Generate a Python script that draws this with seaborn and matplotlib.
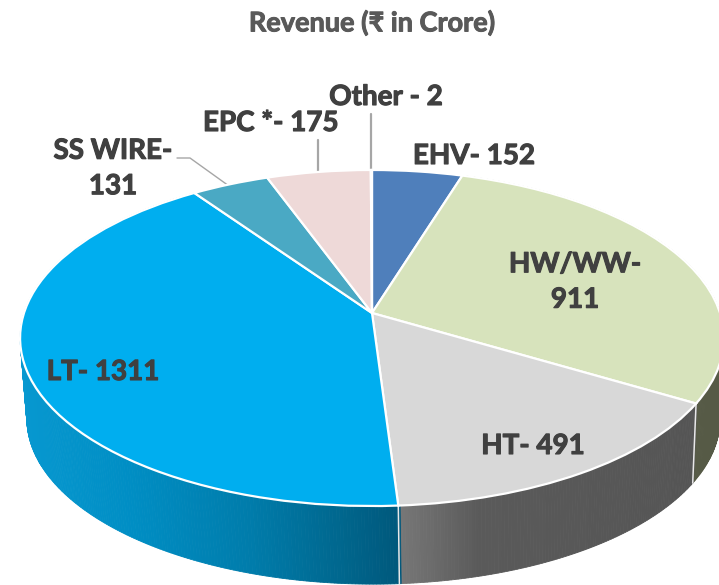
import numpy as np
import matplotlib
matplotlib.use('Agg')
import matplotlib.pyplot as plt
from matplotlib.transforms import Transform
import matplotlib.patheffects as pe
import seaborn as sns

# Values
segments = ['EHV', 'HW/WW', 'HT', 'LT', 'SS WIRE', 'EPC', 'Other']
revenue = [152, 911, 491, 1311, 131, 175, 2]
top_colors = ['#4f7fbb', '#d7e3bc', '#d8d8d8', '#00aeef', '#4aa9c4', '#eed9d8', '#eed9d8']
title = 'Revenue (₹ in Crore)'
labels = ['EHV- 152', 'HW/WW-\n911', 'HT- 491', 'LT- 1311', 'SS WIRE-\n131', 'EPC *- 175', 'Other - 2']
label_pos = [(474, 156), (575, 282), (533, 446), (103, 372), (113, 168.5), (271, 123), (386, 97)]

# side wall shading, x pixel -> colour
wall_stops = {
    'LT': ([20, 130, 250, 340, 398], ['#0798d0', '#008ec4', '#007cab', '#00678e', '#00587c']),
    'HT': ([398, 480, 697], ['#787878', '#5a5a5a', '#555555']),
    'HW/WW': ([690, 725], ['#565a46', '#565a46']),
}

# pie geometry in pixels, the pie is seen in perspective so the centre is not the middle
cx, cy = 372, 313
ax_x, ax_y, tilt = 348, 164.3, 0.1488
wall_scale, wall_shift, wall_drop = 0.985, 1.5, 81


def project(x, y):
    d = 1 + tilt * y
    return cx + ax_x * x / d, cy - ax_y * y / d


class TiltTransform(Transform):
    input_dims = 2
    output_dims = 2
    is_separable = False
    has_inverse = False

    def transform_non_affine(self, values):
        values = np.asarray(values, dtype=float)
        px, py = project(values[:, 0], values[:, 1])
        return np.column_stack([px, py])


def wall_point(x, y):
    px, py = project(x, y)
    return cx + wall_shift + wall_scale * (px - cx), cy + wall_drop + wall_scale * (py - cy)


sns.set_theme(style='white')
plt.rcParams['font.family'] = ['Lato', 'DejaVu Sans']

fig = plt.figure(figsize=(7.19, 5.85), dpi=100)
ax = fig.add_axes([0, 0, 1, 1])

palette = sns.color_palette(top_colors)
wedges, _ = ax.pie(revenue, colors=palette, startangle=90, counterclock=False,
                   radius=1, center=(0, 0),
                   wedgeprops=dict(edgecolor='white', linewidth=1.6, zorder=5))
tilted = TiltTransform() + ax.transData
for w in wedges:
    w.set_transform(tilted)

ax.set_aspect('auto')
ax.set_xlim(0, 719)
ax.set_ylim(585, 0)
ax.axis('off')

# side walls, thin strips so the shading runs left to right
for w, name in zip(wedges, segments):
    if name not in wall_stops:
        continue
    xs, cols = wall_stops[name]
    rgb = np.array(sns.color_palette(cols))
    t = np.radians(np.arange(w.theta1, w.theta2 + 0.5, 0.5))
    for a, b in zip(t[:-1], t[1:]):
        x1, y1 = project(np.cos(a), np.sin(a))
        x2, y2 = project(np.cos(b), np.sin(b))
        x3, y3 = wall_point(np.cos(b), np.sin(b))
        x4, y4 = wall_point(np.cos(a), np.sin(a))
        mid = (x1 + x2) / 2
        col = [np.interp(mid, xs, rgb[:, i]) for i in range(3)]
        ax.fill([x1, x2, x3, x4], [y1, y2, y3, y4], color=col, lw=0.6, zorder=2)

# white seams where two walls meet at the front
for w in wedges:
    th = np.radians(w.theta1)
    if np.sin(th) < -0.3:
        x1, y1 = project(np.cos(th), np.sin(th))
        x2, y2 = wall_point(np.cos(th), np.sin(th))
        ax.plot([x1, x2], [y1, y2], color='#e8e8e8', lw=1.1, zorder=3)

# leader lines
ax.plot([371, 371], [114, 172], color='#a6a6a6', lw=1.6, zorder=1)
ax.plot([318, 318], [140, 173], color='#a6a6a6', lw=1.6, zorder=1)
ax.plot([177, 190, 229], [158, 158, 186], color='#a6a6a6', lw=1.0, zorder=1)

# Lato bold is a bit lighter than the original face, thicken with a thin stroke
for text, (x, y) in zip(labels, label_pos):
    ax.text(x, y, text, ha='center', va='center', fontsize=20, fontweight='bold',
            color='#404040', linespacing=1.45, zorder=6,
            path_effects=[pe.withStroke(linewidth=0.8, foreground='#404040')])

ax.text(372, 23, title, ha='center', va='center', fontsize=19.5, fontweight='bold',
        color='#595959', path_effects=[pe.withStroke(linewidth=0.7, foreground='#595959')])

fig.savefig('out.png', dpi=100)
